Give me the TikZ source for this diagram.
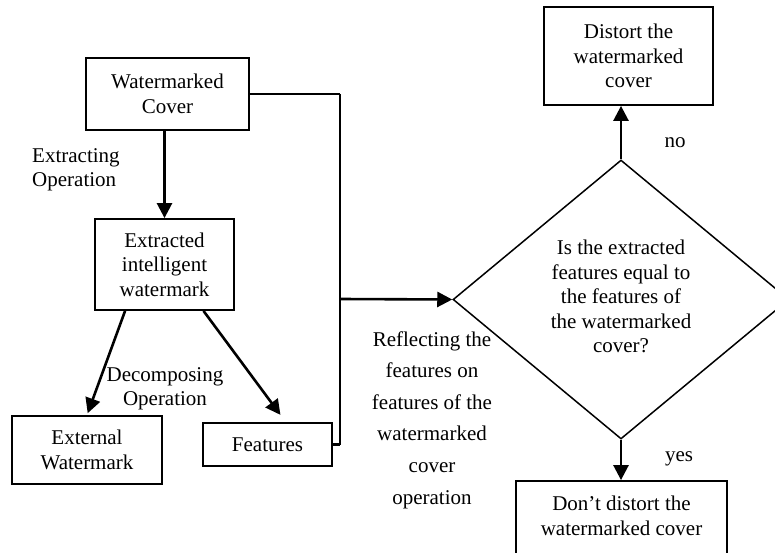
\documentclass[tikz,border=0pt]{standalone}
\usepackage{fontspec}
\setmainfont{Liberation Serif}
\usetikzlibrary{shapes.geometric,arrows.meta,calc}
\begin{document}
\begin{tikzpicture}[x=1pt,y=-1pt,
  every node/.style={font=\fontsize{21}{24.5}\selectfont},
  box/.style={draw,line width=1.8pt,align=center,inner sep=0pt},
  arr/.style={line width=2.6pt,-{Triangle[length=15pt,width=15pt]}},
  lin/.style={line width=2.2pt},
  lbl/.style={inner sep=0pt}]
\clip (0,0) rectangle (775,553);
\fill[white] (0,0) rectangle (775,553);
% boxes
\node[box,minimum width=163pt,minimum height=72pt] (wc) at (167.5,94) {Watermarked\\Cover};
\node[box,minimum width=139pt,minimum height=91pt] (ex) at (164.5,264.5) {Extracted\\intelligent\\watermark};
\node[box,minimum width=150pt,minimum height=68pt] (ext) at (87,450) {External\\Watermark};
\node[box,minimum width=129pt,minimum height=43pt] (feat) at (267.5,444.5) {Features};
\node[box,minimum width=169pt,minimum height=98pt] (dist) at (628.5,56) {Distort the\\watermarked\\cover};
\node[box,minimum width=211pt,minimum height=80pt,text depth=0pt] (dont) at (621.5,521) {};
\node[lbl,align=center] (donttxt) at (621.5,516) {Don’t distort the\\watermarked cover};
\node[draw,diamond,line width=1.5pt,minimum width=336pt,minimum height=279pt,inner sep=0pt,align=center] (dia) at (621,299.5) {};
\node[lbl,align=center] (diatxt) at (621,296.5) {Is the extracted\\features equal to\\the features of\\the watermarked\\cover?};
% labels
\node[lbl,align=left,anchor=west] (lextr) at (32,170) {Extracting\\Operation};
\node[lbl,align=center] (ldec) at (165,389) {Decomposing\\Operation};
\node[lbl,align=center,font=\fontsize{21}{31.6}\selectfont] (lref) at (432,420) {Reflecting the\\features on\\features of the\\watermarked\\cover\\operation};
\node[lbl] (lno) at (675,143) {no};
\node[lbl] (lyes) at (679,459) {yes};
% connector coordinates
\coordinate (top) at (340,94);
\coordinate (mid) at (340,299);
% connectors
\draw[arr] (ex.north |- wc.south) -- (ex.north);
\draw[arr,shorten >=2pt] ($(ex.south west)!0.22!(ex.south east)$) -- (ext.north);
\draw[arr,shorten >=9pt] ($(ex.south west)!0.777!(ex.south east)$) -- ($(feat.north west)!0.64!(feat.north east)$);
\draw[lin] (wc.east) -- (top);
\draw[lin] (top) -- (top |- feat.east);
\draw[lin] (feat.east) -- (feat.east -| top);
\draw[arr] (mid) -- (dia.west);
\draw[arr] (dia.north) -- (dia.north |- dist.south);
\draw[arr] (dia.south) -- (dia.south |- dont.north);
\end{tikzpicture}
\end{document}
